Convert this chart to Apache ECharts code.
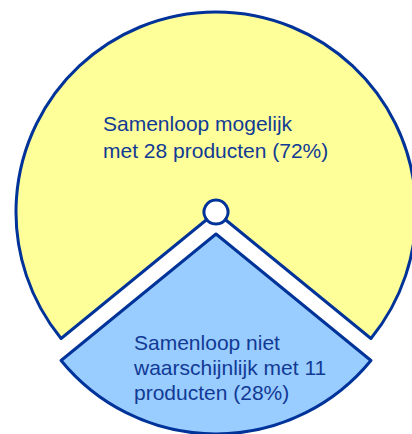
<!DOCTYPE html>
<html>
<head>
<meta charset="utf-8">
<script src="https://cdn.jsdelivr.net/npm/echarts@6/dist/echarts.min.js"></script>
<style>
html,body{margin:0;padding:0;background:#fff;}
#main{width:412px;height:434px;}
</style>
</head>
<body>
<div id="main"></div>
<script>
// categorieen en aantallen producten
var categories = ['Samenloop mogelijk', 'Samenloop niet waarschijnlijk'];
var counts = [28, 11];
// tekst per regel, {v} = aantal, {p} = percentage
var labelLines = [
	['Samenloop mogelijk', 'met {v} producten ({p}%)'],
	['Samenloop niet', 'waarschijnlijk met {v}', 'producten ({p}%)']
];
var colors = ['#FFFF99', '#99CCFF'];

var navy = '#003399';
var textColor = '#113a94';
var total = counts[0] + counts[1];
// blauwe punt recht naar beneden
var startAngle = -90 - (counts[1] / total) * 180;

var myChart = echarts.init(document.getElementById('main'), null, {renderer: 'svg'});

// elke regel even breed, tekst links in het vak
function labelText(p) {
	var lines = labelLines[p.dataIndex];
	var out = [];
	for (var j = 0; j < lines.length; j++) {
		out.push('{t|' + lines[j].replace('{v}', p.value).replace('{p}', Math.round(p.percent)) + '}');
	}
	return out.join('\n');
}

var labelPos = [
	{offset: [0, 28], lh: 27, w: 226},
	{offset: [15, 33], lh: 25, w: 194}
];

var data = [];
for (var i = 0; i < categories.length; i++) {
	var lab = {
		show: true,
		position: 'inside',
		align: 'center',
		verticalAlign: 'middle',
		offset: labelPos[i].offset,
		formatter: labelText,
		rich: {
			t: {
				width: labelPos[i].w,
				align: 'left',
				lineHeight: labelPos[i].lh,
				color: textColor,
				fontSize: 21,
				fontFamily: 'Liberation Sans, Arial, sans-serif'
			}
		}
	};
	data.push({
		name: categories[i],
		value: counts[i],
		selected: i == 1,
		itemStyle: {color: colors[i]},
		label: lab,
		select: {label: lab, itemStyle: {color: colors[i], borderColor: navy, borderWidth: 3}}
	});
}

var option = {
	animation: false,
	series: [
		{
			type: 'pie',
			center: [216, 212],
			radius: [0, 200],
			startAngle: startAngle,
			clockwise: true,
			selectedMode: 'single',
			selectedOffset: 22,
			percentPrecision: 0,
			silent: true,
			itemStyle: {borderColor: navy, borderWidth: 3},
			emphasis: {disabled: true},
			labelLine: {show: false},
			data: data
		},
		{
			// klein rondje in het midden
			type: 'pie',
			center: [216, 212],
			radius: [0, 12],
			silent: true,
			emphasis: {disabled: true},
			label: {show: false},
			itemStyle: {color: '#fff', borderColor: navy, borderWidth: 3},
			data: [{value: 1, name: ''}]
		}
	]
};
myChart.setOption(option);
</script>
</body>
</html>
